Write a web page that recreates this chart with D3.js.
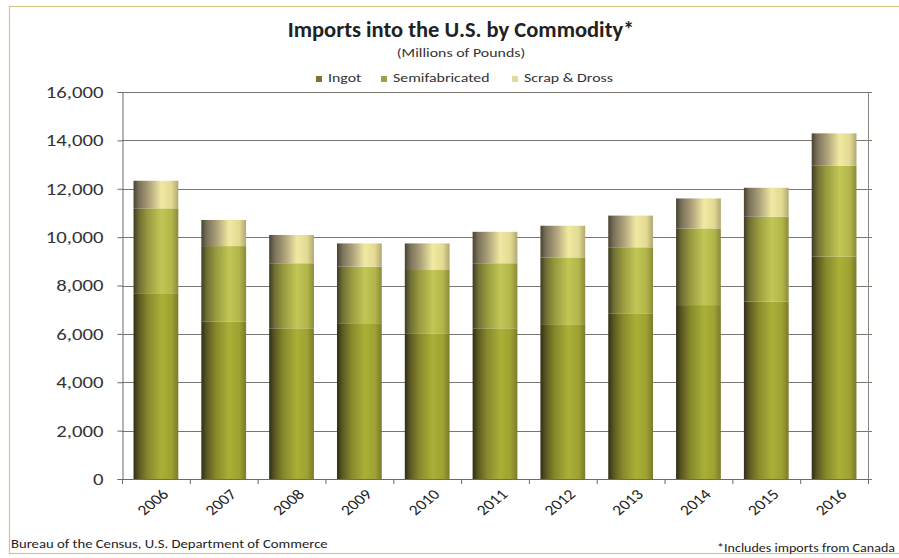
<!DOCTYPE html>
<html>
<head>
<meta charset="utf-8">
<script src="https://cdn.jsdelivr.net/npm/d3@7/dist/d3.min.js"></script>
<style>
  html, body { margin: 0; padding: 0; background: #fff; }
  svg { display: block; }
</style>
</head>
<body>
<svg id="chart" width="899" height="558"></svg>
<script>
// Imports into the U.S. by commodity, millions of pounds
const years = ["2006","2007","2008","2009","2010","2011","2012","2013","2014","2015","2016"];
const ingot = [7680, 6500, 6230, 6440, 6000, 6230, 6370, 6850, 7190, 7330, 9190];
const semifabricated = [3510, 3130, 2690, 2340, 2640, 2690, 2790, 2730, 3170, 3510, 3760];
const scrapDross = [1140, 1080, 1170, 960, 1100, 1300, 1310, 1310, 1240, 1200, 1340];
const seriesNames = ["Ingot", "Semifabricated", "Scrap & Dross"];
const yTicks = [0, 2000, 4000, 6000, 8000, 10000, 12000, 14000, 16000];

const svg = d3.select("#chart");
const font = "Carlito, Calibri, 'Open Sans', 'Liberation Sans', sans-serif";
const wide = 1.22; // horizontal widening used for the label text

// outer frame
svg.append("rect").attr("x", 9.5).attr("y", 6.5).attr("width", 900).attr("height", 547)
  .attr("fill", "none").attr("stroke", "#d6c68e").attr("stroke-width", 1.2);

const plot = { left: 122, right: 868, top: 92, bottom: 479 };

const x = d3.scaleBand().domain(years).range([plot.left, plot.right])
  .paddingInner(0.34).paddingOuter(0.17);
const y = d3.scaleLinear().domain([0, 16000]).range([plot.bottom, plot.top]);

// cylinder-style horizontal gradients
const defs = svg.append("defs");
const gradStops = [
  [[0, "#302e18"], [0.12, "#5a5822"], [0.32, "#86882c"], [0.62, "#a9b036"], [0.85, "#9da232"], [1, "#7a7a2a"]],
  [[0, "#3e3b22"], [0.12, "#6f6e34"], [0.32, "#979a3e"], [0.62, "#c2c656"], [0.85, "#b2b64a"], [1, "#8a8a3a"]],
  [[0, "#48432f"], [0.12, "#7a715a"], [0.35, "#ada27a"], [0.62, "#f1e9a2"], [0.85, "#e2da92"], [1, "#b0a772"]]
];
gradStops.forEach((stops, i) => {
  const g = defs.append("linearGradient").attr("id", "g" + i)
    .attr("x1", "0").attr("x2", "1").attr("y1", "0").attr("y2", "0");
  stops.forEach(s => g.append("stop").attr("offset", s[0]).attr("stop-color", s[1]));
});
const legendColors = ["#7d7434", "#9ea246", "#e2dc9c"];

// gridlines
svg.append("g").selectAll("line").data(yTicks).join("line")
  .attr("x1", plot.left).attr("x2", plot.right + 4)
  .attr("y1", d => Math.round(y(d)) + 0.5).attr("y2", d => Math.round(y(d)) + 0.5)
  .attr("stroke", "#7a7670").attr("stroke-width", 1);

// right border of plot area
svg.append("line").attr("x1", plot.right + 0.5).attr("x2", plot.right + 0.5)
  .attr("y1", plot.top).attr("y2", plot.bottom).attr("stroke", "#8a8680");

// y axis
const yAxis = d3.axisLeft(y).tickValues(yTicks).tickFormat(d3.format(",")).tickSize(5).tickPadding(19);
const yg = svg.append("g").attr("transform", `translate(${plot.left + 0.5},0)`).call(yAxis);
yg.select(".domain").attr("stroke", "#6e6a64");
yg.selectAll(".tick line").attr("stroke", "#6e6a64");
yg.selectAll("text")
  .attr("x", 0)
  .attr("transform", `translate(-19,0) scale(${wide},1)`)
  .attr("font-family", font).attr("font-size", 17).attr("fill", "#333");

// stacked data
const stackData = years.map((yr, i) => ({ year: yr, ingot: ingot[i], semi: semifabricated[i], scrap: scrapDross[i] }));
const stack = d3.stack().keys(["ingot", "semi", "scrap"]);
const layers = stack(stackData);

svg.append("g").selectAll("g").data(layers).join("g")
  .attr("fill", (d, i) => `url(#g${i})`)
  .selectAll("rect").data(d => d).join("rect")
  .attr("x", d => x(d.data.year))
  .attr("width", x.bandwidth())
  .attr("y", d => y(d[1]))
  .attr("height", d => y(d[0]) - y(d[1]));

// x axis with ticks between categories
svg.append("line").attr("x1", plot.left).attr("x2", plot.right)
  .attr("y1", plot.bottom + 0.5).attr("y2", plot.bottom + 0.5).attr("stroke", "#6e6a64");
const bounds = d3.range(years.length + 1).map(i => plot.left + i * x.step());
svg.append("g").selectAll("line").data(bounds).join("line")
  .attr("x1", d => d + 0.5).attr("x2", d => d + 0.5)
  .attr("y1", plot.bottom).attr("y2", plot.bottom + 5).attr("stroke", "#6e6a64");

svg.append("g").selectAll("text").data(years).join("text")
  .attr("transform", d => `translate(${x(d) + x.bandwidth() / 2 + 5},${plot.bottom + 9}) scale(${wide},1) rotate(-45)`)
  .attr("text-anchor", "end").attr("dy", "0.7em")
  .attr("font-family", font).attr("font-size", 14.5).attr("fill", "#222")
  .text(d => d);

// titles
svg.append("text").attr("x", 461).attr("y", 37).attr("text-anchor", "middle")
  .attr("font-family", font).attr("font-weight", "bold").attr("font-size", 22.5).attr("fill", "#222")
  .text("Imports into the U.S. by Commodity*");
svg.append("text").attr("transform", `translate(461,57) scale(${wide},1)`).attr("text-anchor", "middle")
  .attr("font-family", font).attr("font-size", 13).attr("fill", "#333")
  .text("(Millions of Pounds)");

// legend
const legendX = [316, 381, 512];
const lg = svg.append("g").selectAll("g").data(seriesNames).join("g")
  .attr("transform", (d, i) => `translate(${legendX[i]},82)`);
lg.append("rect").attr("x", 0).attr("y", -6).attr("width", 6).attr("height", 6)
  .attr("fill", (d, i) => legendColors[i]);
lg.append("text").attr("transform", `translate(12,0) scale(${wide},1)`)
  .attr("font-family", font).attr("font-size", 13).attr("fill", "#333").text(d => d);

// footer notes
svg.append("text").attr("transform", "translate(11,548) scale(1.13,1)")
  .attr("font-family", font).attr("font-size", 13).attr("fill", "#222")
  .text("Bureau of the Census, U.S. Department of Commerce");
svg.append("text").attr("transform", "translate(895,552) scale(1.08,1)")
  .attr("text-anchor", "end")
  .attr("font-family", font).attr("font-size", 13).attr("fill", "#222")
  .text("*Includes imports from Canada");
</script>
</body>
</html>
